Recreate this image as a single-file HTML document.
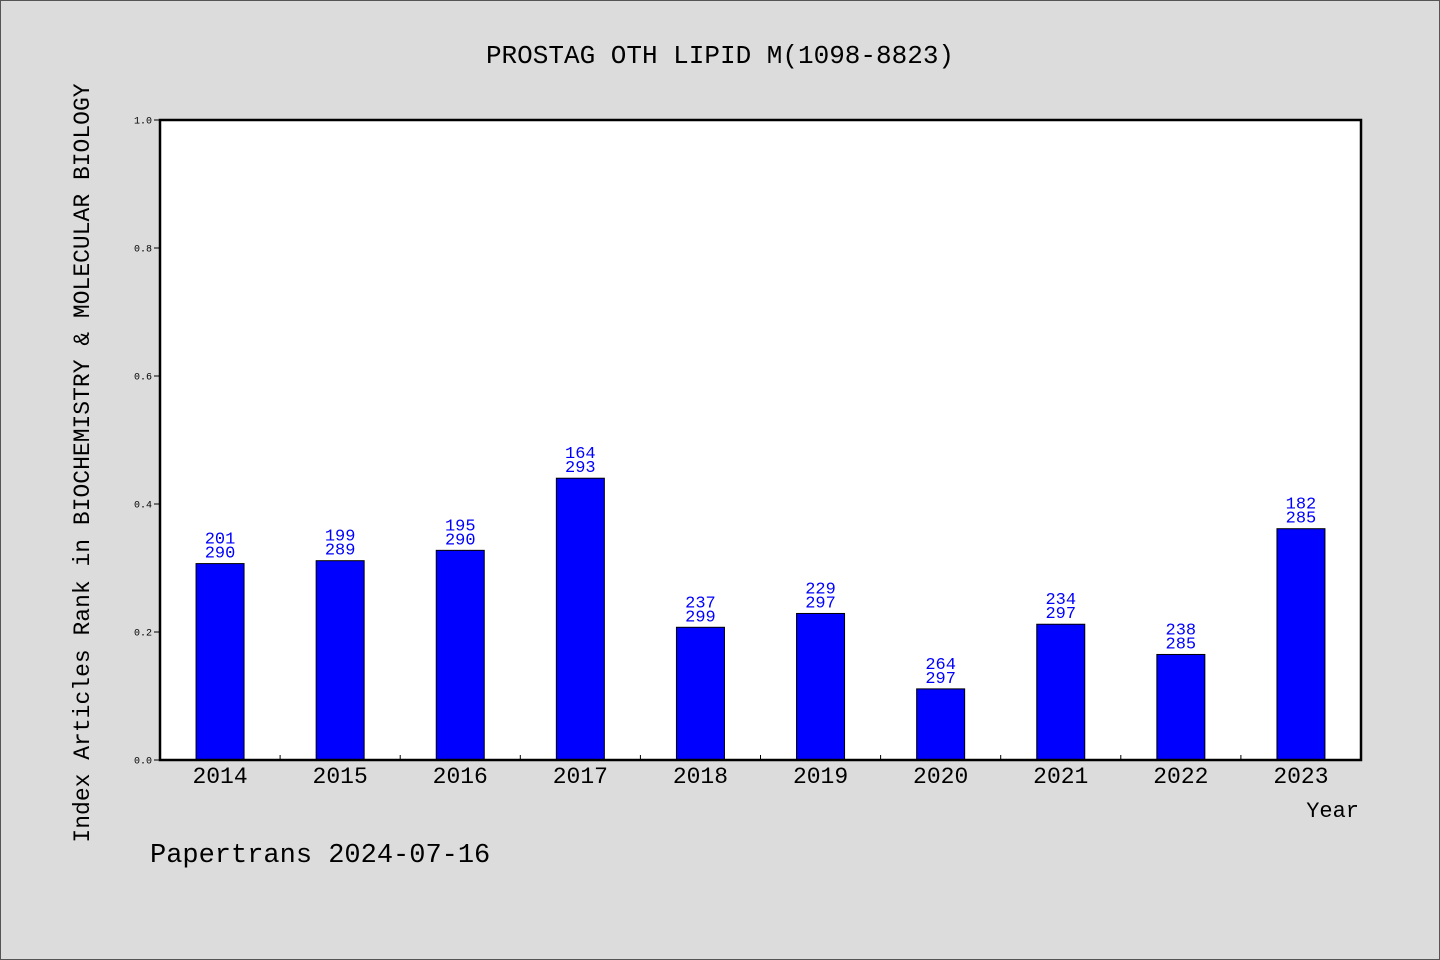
<!DOCTYPE html>
<html><head><meta charset="utf-8"><style>
html,body{margin:0;padding:0;background:#dcdcdc;}
svg{display:block;font-family:"Liberation Mono",monospace;}
</style></head><body>
<svg id="chart" width="1440" height="960" xmlns="http://www.w3.org/2000/svg">
<rect x="0.5" y="0.5" width="1439" height="959" fill="#dcdcdc" stroke="#555"/>
<text x="720" y="63" font-size="26" text-anchor="middle">PROSTAG OTH LIPID M(1098-8823)</text>
<rect x="160" y="120" width="1201" height="640" fill="#fff"/>
<g id="bars"></g>
<g id="axes"></g>
<rect x="160" y="120" width="1201" height="640" fill="none" stroke="#000" stroke-width="2.5"/>
<text x="1359" y="817" font-size="22" text-anchor="end">Year</text>
<text transform="translate(89,463) rotate(-90)" font-size="23" text-anchor="middle">Index Articles Rank in BIOCHEMISTRY &amp; MOLECULAR BIOLOGY</text>
<text x="150" y="862" font-size="27">Papertrans 2024-07-16</text>
</svg>
<script>
const years=["2014","2015","2016","2017","2018","2019","2020","2021","2022","2023"];
const ranks=[201,199,195,164,237,229,264,234,238,182];
const totals=[290,289,290,293,299,297,297,297,285,285];
const yTicks=[0,0.2,0.4,0.6,0.8,1.0];
const NS="http://www.w3.org/2000/svg";
const x0=160,x1=1361,y0=760,y1=120;
const bw=(x1-x0)/years.length;
const xc=i=>x0+bw*(i+0.5);
const ys=v=>y0-(y0-y1)*v;
function mk(t,a,p){const e=document.createElementNS(NS,t);for(const k in a)e.setAttribute(k,a[k]);p.appendChild(e);return e;}
const bars=document.getElementById('bars'),axes=document.getElementById('axes');
years.forEach((y,i)=>{
  const v=1-ranks[i]/totals[i];
  const r=mk('rect',{x:xc(i)-24,y:ys(v),width:48,height:y0-ys(v),fill:'#0000ff',stroke:'#000','stroke-width':1},bars);
  
  
  const t1=mk('text',{x:xc(i),y:ys(v)-20,'font-size':17,fill:'#0000ff','text-anchor':'middle'},bars);
  t1.textContent=ranks[i];
  
  
  const t2=mk('text',{x:xc(i),y:ys(v)-6,'font-size':17,fill:'#0000ff','text-anchor':'middle'},bars);
  t2.textContent=totals[i];
  
  
  const xl=mk('text',{x:xc(i),y:783,'font-size':23,'text-anchor':'middle'},axes);
  xl.textContent=y;
  
  
  if(i>0){const tk=mk('line',{x1:x0+bw*i,x2:x0+bw*i,y1:y0,y2:y0-5,stroke:'#000'},axes);
  
  }
});
yTicks.forEach(v=>{
  const tk=mk('line',{x1:x0-6,x2:x0,y1:ys(v),y2:ys(v),stroke:'#000'},axes);
  
  
  const tl=mk('text',{x:x0-8,y:ys(v)+3.5,'font-size':10,'text-anchor':'end'},axes);
  tl.textContent=v.toFixed(1);
  
  
});
</script>
</body></html>
